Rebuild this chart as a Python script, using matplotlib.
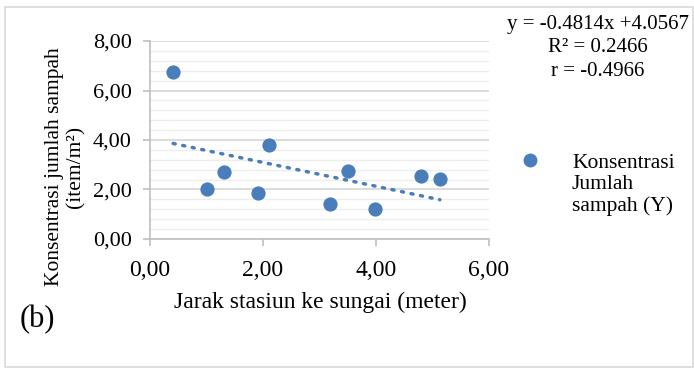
import matplotlib
matplotlib.use('Agg')
import matplotlib.pyplot as plt
import numpy as np
from matplotlib.patches import Rectangle

plt.rcParams['font.family'] = ['Liberation Serif', 'DejaVu Serif']

# data
jarak = [0.41, 1.00, 1.31, 1.92, 2.11, 3.19, 3.50, 3.99, 4.80, 5.13]
konsentrasi = [6.75, 2.02, 2.72, 1.86, 3.80, 1.43, 2.76, 1.20, 2.56, 2.42]
slope, intercept = -0.4814, 4.0567
x_ticks = [0, 2, 4, 6]
y_ticks = [0, 2, 4, 6, 8]

blue = '#4a7ebb'

fig = plt.figure(figsize=(6.94, 3.70), dpi=100)
fig.patches.append(Rectangle((5 / 694, 3 / 370), 688 / 694, 360 / 370, transform=fig.transFigure,
                             fill=False, edgecolor='#d9d9d9', linewidth=1.2))

ax = fig.add_axes([150 / 694, 1 - 239 / 370, 339 / 694, 198 / 370])
ax.scatter(jarak, konsentrasi, s=105, color=blue, zorder=3, linewidths=0)

# garis tren linear
xt = np.array([min(jarak), max(jarak)])
ax.plot(xt, slope * xt + intercept, color=blue, linestyle=(0, (0.6, 2.2)),
        linewidth=2.5, dash_capstyle='round', zorder=2)

ax.set_xlim(0, 6)
ax.set_ylim(0, 8)
ax.set_xticks(x_ticks)
ax.set_yticks(y_ticks)
ax.set_yticks(np.arange(0, 8.01, 0.4), minor=True)
ax.set_xticklabels([f'{v:.2f}'.replace('.', ',') for v in x_ticks], fontsize=17)
ax.set_yticklabels([f'{v:.2f}'.replace('.', ',') for v in y_ticks], fontsize=16)

ax.grid(axis='y', which='major', color='#d9d9d9', linewidth=1.3)
ax.grid(axis='y', which='minor', color='#ededed', linewidth=1.0)
ax.set_axisbelow(True)
for s in ['top', 'right']:
    ax.spines[s].set_visible(False)
for s in ['left', 'bottom']:
    ax.spines[s].set_color('#bfbfbf')
    ax.spines[s].set_linewidth(1.2)
ax.tick_params(axis='both', which='major', color='#bfbfbf', length=5, width=1.2)
ax.tick_params(axis='y', which='minor', length=0)
ax.tick_params(axis='y', pad=8)
ax.tick_params(axis='x', pad=10)

fig.text(320 / 694, 1 - 302 / 370, 'Jarak stasiun ke sungai (meter)', ha='center', va='center', fontsize=17)
fig.text(65 / 694, 1 - 167 / 370, 'Konsentrasi jumlah sampah\n(item/m²)', ha='center', va='center',
         rotation=90, fontsize=15.5, linespacing=1.15)
fig.text(20 / 694, 1 - 320 / 370, '(b)', ha='left', va='center', fontsize=22)

fig.text(598 / 694, 1 - 25 / 370, 'y = -0.4814x +4.0567', ha='center', va='center', fontsize=15)
fig.text(598 / 694, 1 - 48 / 370, 'R² = 0.2466', ha='center', va='center', fontsize=15)
fig.text(598 / 694, 1 - 72 / 370, 'r = -0.4966', ha='center', va='center', fontsize=15)

# legenda
fig.add_artist(plt.Line2D([530 / 694], [1 - 160 / 370], marker='o', markersize=9, color=blue,
                          linestyle='none', transform=fig.transFigure))
fig.text(572 / 694, 1 - 185 / 370, 'Konsentrasi\nJumlah\nsampah (Y)', ha='left', va='center',
         fontsize=15.5, linespacing=1.12)

plt.savefig('out.png', dpi=100)
